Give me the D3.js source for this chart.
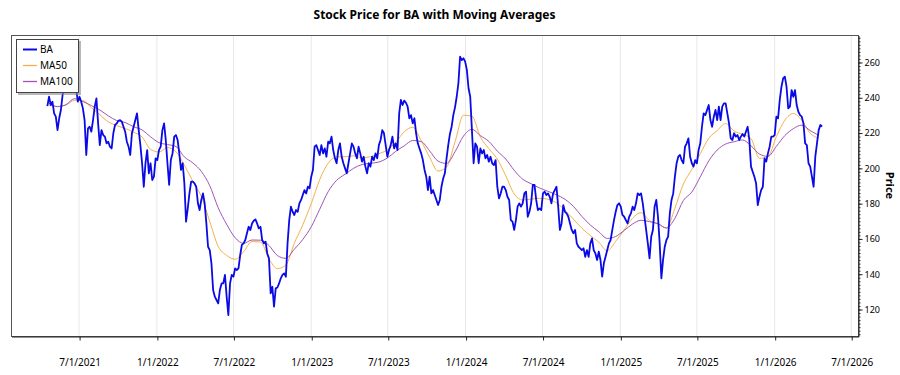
<!DOCTYPE html>
<html>
<head>
<meta charset="utf-8">
<script src="https://cdn.jsdelivr.net/npm/d3@7"></script>
<style>
  body { margin: 0; background: #fff; }
  text { font-family: "Noto Sans", "Open Sans", sans-serif; fill: #000; }
</style>
</head>
<body>
<div id="chart"></div>
<script>
// ---- data ----
const ticker = "BA";
const chartTitle = "Stock Price for BA with Moving Averages";
const yTitle = "Price";

// closing price, one value every 4 calendar days
const priceStart = "2021-04-17";
const priceStepDays = 4;
const priceValues = [
  235.0, 240.3, 235.6, 237.5, 230.9, 229.0, 221.4, 228.1, 232.8, 241.3,
  246.0, 250.0, 254.0, 249.0, 245.0, 250.0, 253.0, 245.0, 237.5, 240.3,
  237.5, 233.7, 227.1, 207.3, 222.4, 223.3, 220.5, 227.1, 234.7, 239.4,
  225.2, 212.9, 221.4, 218.6, 217.7, 213.9, 214.8, 212.0, 211.0, 219.6,
  224.3, 225.2, 226.7, 227.1, 226.2, 223.3, 220.5, 214.8, 212.0, 207.3,
  219.6, 223.3, 227.1, 230.9, 221.4, 212.9, 202.6, 189.3, 202.6, 210.1,
  196.9,
  202.6, 193.1, 195.0, 205.4, 204.4, 210.1, 212.0, 221.4, 225.2, 215.8,
  202.6, 190.3, 204.4, 208.2, 217.7, 218.6, 215.8, 208.2, 198.8, 202.6,
  191.2, 169.5, 177.0, 185.5, 192.2, 192.2, 191.2, 189.3, 179.9, 176.1,
  181.8, 185.5, 179.9, 168.5, 155.3, 153.4, 145.9, 130.8, 127.0, 125.1,
  123.2, 130.8, 134.5, 134.5, 139.3, 127.0, 116.5, 134.5, 139.3, 138.3,
  143.0, 142.1, 143.0, 150.6, 156.3, 157.2, 159.1, 162.9, 166.6, 164.8,
  168.5, 170.0, 170.8, 168.5, 165.7, 166.6, 159.1, 157.2, 158.2, 151.5,
  148.7,
  128.9, 132.6, 121.3, 131.7, 132.2, 134.5, 137.4, 139.3, 140.2, 138.3,
  157.2, 170.4, 178.0, 175.1, 173.3, 176.1, 175.1, 179.9, 181.8, 184.6,
  187.4, 185.5, 189.3, 188.4, 195.0, 198.8, 212.0, 212.9, 210.1, 207.3,
  212.9, 208.2, 211.0, 206.3, 214.8, 213.9, 217.7, 210.1, 205.4, 202.6,
  210.1, 213.9, 206.3, 202.6, 199.7, 196.9, 202.6, 208.2, 213.9, 212.0,
  208.2, 205.4, 212.0, 208.2, 203.5, 206.3, 200.7, 196.9, 202.6, 200.7,
  206.3, 204.4, 208.2, 205.4, 212.9, 215.8, 221.4, 219.6, 212.9, 206.3,
  210.1,
  212.9, 217.7, 211.0, 213.9, 210.1, 230.9, 238.5, 235.6, 238.1, 236.9,
  234.7, 228.1, 229.9, 225.2, 228.1, 219.6, 213.9, 211.0, 208.2, 204.4,
  198.8, 195.0, 187.4, 195.0, 185.5, 187.4, 184.6, 181.8, 178.9, 181.8,
  189.3, 194.0, 196.9, 205.4, 212.9, 219.2, 223.3, 229.9, 234.3, 240.3,
  247.9, 263.0, 261.1, 262.1, 260.2, 255.5, 245.1, 240.3, 221.4, 202.6,
  213.9, 212.0, 202.6, 211.0, 208.2, 210.1, 205.4, 207.3, 203.5, 206.3,
  202.6, 201.6, 204.4, 189.3, 182.7, 185.5, 189.3, 189.3, 187.4, 183.6,
  181.8,
  170.4, 169.5, 164.8, 170.4, 178.0, 179.9, 178.0, 179.9, 185.5, 186.5,
  172.3, 175.1, 179.9, 190.3, 190.3, 181.8, 176.1, 177.0, 176.1, 185.5,
  186.5, 184.6, 185.5, 183.6, 179.9, 185.5, 187.4, 189.3, 178.0, 164.8,
  168.5, 178.9, 175.1, 174.2, 172.3, 168.5, 164.8, 162.9, 164.8, 157.2,
  155.3, 154.4, 153.4, 154.4, 149.6, 153.4, 149.6, 157.2, 160.0, 153.4,
  151.5, 147.8, 152.5, 147.8, 138.3, 145.9, 149.6, 153.4, 157.2, 159.1,
  164.8, 170.4, 175.1, 178.9, 179.9, 178.0, 173.3, 172.3, 170.4, 168.5,
  172.3,
  174.2, 178.0, 176.1, 179.9, 185.5, 184.6, 185.5, 179.9, 172.3, 164.8,
  157.2, 148.7, 161.0, 164.8, 178.0, 181.8, 172.3, 157.2, 137.4, 147.8,
  155.3, 159.1, 161.0, 174.2, 181.8, 185.5, 195.0, 202.6, 206.3, 207.3,
  204.4, 202.6, 212.0, 213.9, 216.7, 206.3, 202.6, 200.7, 204.4, 202.6,
  210.1, 213.9, 223.3, 230.9, 229.9, 232.8, 235.6, 227.1, 223.3, 229.0,
  232.8, 227.1, 234.7, 227.1, 234.7, 236.6, 236.6, 230.9, 225.2, 216.7,
  215.8, 219.6, 217.7, 218.6, 215.8, 217.7, 219.2, 217.7, 220.5, 223.3,
  215.8,
  200.7, 197.8, 195.0, 191.2, 178.9, 183.6, 187.4, 189.3, 205.4, 203.5,
  208.2, 212.0, 217.7, 217.7, 218.6, 229.0, 228.1, 238.5, 246.0, 250.7,
  251.7, 246.0, 233.7, 234.7, 244.1, 240.3, 244.1, 235.6, 231.8, 229.9,
  229.0, 225.2, 213.9, 212.9, 202.6, 200.7, 195.0, 189.3, 206.3, 213.9,
  221.4, 224.3, 223.3
];

// moving averages, one value every 20 calendar days
const maStart = "2021-04-21";
const maStepDays = 20;
const ma50Values = [
  235.6, 234.8, 235.6, 238.3, 238.1, 234.1, 230.1, 226.1, 223.9, 222.3,
  220.2, 217.5, 210.5, 209.0, 211.5, 209.2, 201.5, 192.4, 183.8, 169.6,
  155.5, 150.4, 148.2, 152.5, 158.2, 158.0, 148.5, 142.9, 144.9, 157.3,
  167.7, 179.7, 193.3, 202.6, 206.2, 206.3, 206.8, 205.8, 206.3, 208.0,
  210.2, 214.5, 220.5, 223.0, 215.4, 206.0, 198.2, 200.4, 214.7, 229.8,
  229.3, 217.5, 210.9, 205.0, 195.5, 185.2, 181.8, 182.3, 182.7, 182.2,
  180.1, 176.0, 170.9, 165.8, 161.6, 157.9, 153.0, 158.4, 164.8, 171.5,
  174.6, 170.1, 168.3, 165.9, 177.1, 190.8, 199.1, 208.0, 216.7, 221.1,
  225.1, 220.9, 219.0, 216.6, 205.4, 206.4, 217.7, 227.0, 230.8, 227.0,
  219.6, 216.7
];
const ma100Values = [
  236.6, 234.7, 235.8, 239.2, 237.6, 235.3, 232.8, 229.5, 226.8, 225.7,
  223.3, 221.5, 217.6, 214.3, 213.2, 212.1, 206.2, 202.8, 198.0, 189.9,
  177.4, 168.0, 160.4, 157.2, 159.1, 159.0, 156.0, 150.3, 148.7, 153.9,
  159.4, 166.6, 176.5, 186.5, 192.9, 196.4, 199.7, 201.9, 202.6, 203.3,
  205.6, 209.4, 212.5, 215.5, 214.9, 209.6, 203.8, 202.5, 209.1, 218.0,
  221.8, 218.3, 215.0, 209.5, 205.0, 198.6, 193.6, 191.0, 188.6, 186.7,
  184.7, 182.2, 178.2, 172.5, 167.6, 163.8, 160.0, 161.1, 164.5, 168.2,
  170.3, 169.5, 168.3, 165.9, 171.4, 181.5, 186.3, 194.9, 203.9, 210.1,
  213.5, 214.8, 215.8, 212.5, 207.8, 206.5, 212.2, 218.3, 222.2, 224.2,
  221.1, 218.4
];

const xTickDates = ["2021-07-01", "2022-01-01", "2022-07-01", "2023-01-01", "2023-07-01",
  "2024-01-01", "2024-07-01", "2025-01-01", "2025-07-01", "2026-01-01", "2026-07-01"];
const yTickValues = [120, 140, 160, 180, 200, 220, 240, 260];
const seriesNames = [ticker, "MA50", "MA100"];
const seriesColors = ["#0a0ae6", "#f5b04a", "#a055b5"];

// ---- layout ----
const W = 900, H = 375;
const plot = { left: 11, top: 35, right: 858, bottom: 336 };

const parse = d3.timeParse("%Y-%m-%d");
const fmt = d3.timeFormat("%-m/%-d/%Y");

const priceData = priceValues.map((v, i) => ({
  date: d3.timeDay.offset(parse(priceStart), i * priceStepDays), value: v }));
const ma50Data = ma50Values.map((v, i) => ({
  date: d3.timeDay.offset(parse(maStart), i * maStepDays), value: v }));
const ma100Data = ma100Values.map((v, i) => ({
  date: d3.timeDay.offset(parse(maStart), i * maStepDays), value: v }));

const x = d3.scaleTime()
  .domain([parse("2021-01-21"), parse("2026-07-17")])
  .range([plot.left, plot.right]);
const y = d3.scaleLinear()
  .domain([104.7, 275.3])
  .range([plot.bottom, plot.top]);

const svg = d3.select("#chart").append("svg")
  .attr("width", W).attr("height", H);

svg.append("defs").append("clipPath").attr("id", "clip")
  .append("rect")
  .attr("x", plot.left).attr("y", plot.top)
  .attr("width", plot.right - plot.left).attr("height", plot.bottom - plot.top);

// title
svg.append("text")
  .attr("x", (plot.left + plot.right) / 2)
  .attr("y", 19)
  .attr("text-anchor", "middle")
  .style("font-size", "12px")
  .style("font-weight", "bold")
  .text(chartTitle);

// vertical grid
svg.append("g")
  .selectAll("line")
  .data(xTickDates.map(parse))
  .join("line")
  .attr("x1", d => x(d)).attr("x2", d => x(d))
  .attr("y1", plot.top).attr("y2", plot.bottom)
  .attr("stroke", "#e8e8e8");

// series
const line = d3.line().x(d => x(d.date)).y(d => y(d.value));
const smooth = d3.line().x(d => x(d.date)).y(d => y(d.value)).curve(d3.curveMonotoneX);

const lines = svg.append("g").attr("clip-path", "url(#clip)");
lines.append("path").datum(ma50Data)
  .attr("d", smooth).attr("fill", "none")
  .attr("stroke", seriesColors[1]).attr("stroke-width", 1);
lines.append("path").datum(ma100Data)
  .attr("d", smooth).attr("fill", "none")
  .attr("stroke", seriesColors[2]).attr("stroke-width", 1);
lines.append("path").datum(priceData)
  .attr("d", line).attr("fill", "none")
  .attr("stroke", seriesColors[0]).attr("stroke-width", 1.8)
  .attr("stroke-linejoin", "round");

// frame
svg.append("rect")
  .attr("x", plot.left + 0.5).attr("y", plot.top + 0.5)
  .attr("width", plot.right - plot.left).attr("height", plot.bottom - plot.top)
  .attr("fill", "none").attr("stroke", "#555");

// bottom axis
const xAxis = svg.append("g")
  .attr("transform", `translate(0.5,${plot.bottom + 0.5})`)
  .call(d3.axisBottom(x).tickValues(xTickDates.map(parse)).tickFormat(fmt)
    .tickSize(4).tickSizeOuter(0).tickPadding(18));
xAxis.select(".domain").attr("stroke", "#222");
xAxis.selectAll(".tick line").attr("stroke", "#222");
xAxis.selectAll("text").style("font-size", "10px");

// right axis, minor then major ticks
const minor = d3.range(106, 275, 2);
svg.append("g")
  .attr("transform", `translate(${plot.right + 0.5},0.5)`)
  .call(d3.axisRight(y).tickValues(minor).tickSize(2).tickFormat(""))
  .call(g => g.select(".domain").remove())
  .selectAll("line").attr("stroke", "#333");
const yAxis = svg.append("g")
  .attr("transform", `translate(${plot.right + 0.5},0.5)`)
  .call(d3.axisRight(y).tickValues(yTickValues).tickSize(4).tickSizeOuter(0).tickPadding(2));
yAxis.select(".domain").attr("stroke", "#222");
yAxis.selectAll(".tick line").attr("stroke", "#222");
yAxis.selectAll("text").style("font-size", "9px");

svg.append("text")
  .attr("transform", `translate(886,${(plot.top + plot.bottom) / 2}) rotate(90)`)
  .attr("text-anchor", "middle")
  .style("font-size", "11px")
  .style("font-weight", "bold")
  .text(yTitle);

// legend
const lg = svg.append("g").attr("transform", "translate(16,39)");
lg.append("rect").attr("x", 2).attr("y", 2).attr("width", 63).attr("height", 54)
  .attr("fill", "#888").attr("opacity", 0.6);
lg.append("rect").attr("x", 0.5).attr("y", 0.5).attr("width", 62).attr("height", 53)
  .attr("fill", "#fff").attr("stroke", "#444");
const items = lg.selectAll(".item").data(seriesNames).join("g")
  .attr("transform", (d, i) => `translate(0,${10.5 + i * 16})`);
items.append("line").attr("x1", 7).attr("x2", 21)
  .attr("stroke", (d, i) => seriesColors[i])
  .attr("stroke-width", (d, i) => i === 0 ? 2 : 1.3);
items.append("text").attr("x", 24).attr("dy", "0.35em")
  .style("font-size", "10px").text(d => d);
</script>
</body>
</html>
